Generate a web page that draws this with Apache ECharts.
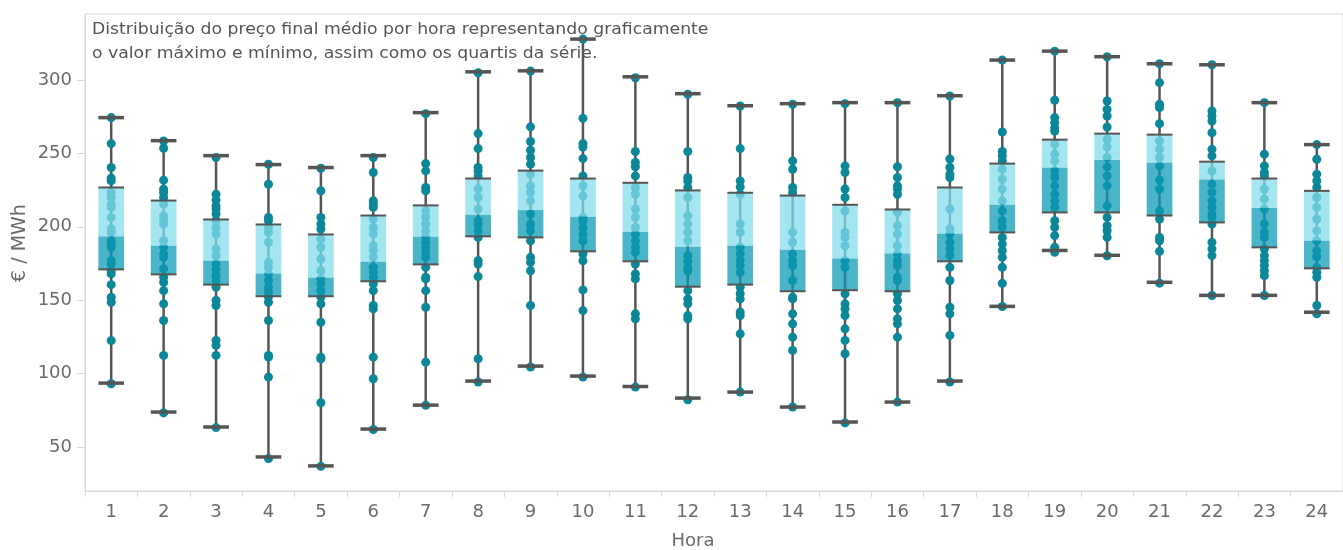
<!DOCTYPE html>
<html>
<head>
<meta charset="utf-8">
<script src="https://cdn.jsdelivr.net/npm/echarts@6/dist/echarts.min.js"></script>
<style>
html,body{margin:0;padding:0;background:#fff;}
#chart{width:1343px;height:550px;}
</style>
</head>
<body>
<div id="chart"></div>
<script>
// ---- Data ----
var hours = ['1','2','3','4','5','6','7','8','9','10','11','12','13','14','15','16','17','18','19','20','21','22','23','24'];
var yTickValues = [50, 100, 150, 200, 250, 300];

var statMin = [93.5, 73.8, 63.6, 43.2, 37.1, 62.2, 78.5, 94.9, 105.1, 98.3, 91.2, 83.3, 87.4, 77.2, 67.0, 80.6, 94.9, 145.8, 183.9, 180.6, 162.2, 153.3, 153.3, 141.8];
var statQ1  = [171.0, 167.6, 160.6, 152.7, 152.7, 162.9, 174.4, 193.5, 192.8, 183.3, 176.5, 159.2, 160.6, 156.1, 156.8, 156.1, 176.5, 196.2, 209.8, 209.8, 207.7, 203.0, 186.0, 171.7];
var statMed = [193.5, 187.1, 176.9, 168.1, 165.4, 176.2, 193.2, 208.2, 211.4, 206.8, 196.6, 186.4, 187.1, 184.4, 178.3, 181.9, 195.3, 215.0, 240.2, 245.6, 243.6, 232.2, 212.9, 190.5];
var statQ3  = [226.8, 217.9, 205.0, 201.6, 194.8, 207.7, 214.6, 232.9, 238.3, 232.9, 230.0, 224.8, 223.2, 221.3, 215.0, 211.8, 226.8, 243.1, 259.4, 263.5, 262.8, 244.4, 232.9, 224.5];
var statMax = [274.4, 258.7, 248.5, 242.4, 240.4, 248.5, 277.8, 305.6, 306.3, 327.9, 302.2, 290.7, 282.5, 283.9, 284.6, 284.6, 289.3, 313.6, 319.7, 315.9, 311.1, 310.4, 284.6, 256.0];

var h01 = [274.4, 256.7, 240.4, 233.2, 231.3, 223.4, 220.0, 215.5, 213.2, 206.4, 198.5, 196.2, 190.5, 188.7, 186.0, 176.9, 174.7, 170.1, 167.9, 160.6, 152.0, 148.6, 122.5, 93.1];
var h02 = [258.5, 253.5, 231.8, 225.7, 223.4, 220.0, 215.5, 207.5, 205.3, 201.9, 190.5, 186.0, 181.5, 179.2, 171.3, 165.6, 162.2, 156.5, 147.5, 136.2, 112.4, 73.2];
var h03 = [247.2, 222.2, 218.2, 214.3, 212.1, 208.7, 204.1, 199.6, 195.1, 184.9, 180.4, 174.7, 171.3, 166.8, 163.4, 158.9, 149.8, 146.4, 122.6, 119.2, 112.4, 63.2];
var h04 = [242.6, 229.0, 206.4, 204.1, 199.6, 196.2, 189.4, 175.8, 172.4, 167.9, 163.4, 158.9, 155.5, 152.1, 148.6, 136.2, 112.4, 111.2, 97.6, 42.1];
var h05 = [239.9, 224.5, 206.4, 201.9, 198.5, 191.7, 186.0, 178.1, 170.1, 164.5, 161.1, 156.5, 152.1, 147.5, 135.0, 111.2, 110.0, 80.1, 36.8];
var h06 = [247.2, 237.0, 217.7, 215.5, 213.2, 205.3, 199.6, 195.1, 187.1, 183.7, 179.2, 172.4, 169.0, 165.6, 161.1, 156.5, 146.4, 144.1, 111.2, 96.5, 61.9];
var h07 = [277.1, 243.1, 238.1, 226.8, 224.5, 210.9, 206.4, 201.9, 197.4, 192.8, 189.4, 186.0, 182.6, 179.2, 172.4, 165.6, 164.5, 156.5, 145.2, 107.8, 78.4];
var h08 = [305.0, 263.5, 253.3, 240.4, 238.1, 234.7, 225.7, 220.0, 212.1, 204.1, 201.9, 197.4, 192.8, 177.0, 174.7, 166.1, 110.1, 94.3];
var h09 = [306.1, 268.1, 258.1, 252.2, 247.2, 242.7, 235.9, 227.9, 223.4, 217.7, 208.7, 201.9, 197.4, 190.5, 179.2, 175.8, 170.1, 146.4, 104.5];
var h10 = [327.9, 273.9, 256.7, 254.4, 246.5, 234.7, 227.9, 221.1, 206.4, 204.1, 199.6, 195.1, 190.5, 181.5, 176.9, 157.0, 142.9, 97.6];
var h11 = [301.6, 251.3, 243.8, 240.9, 234.7, 226.8, 222.2, 212.1, 206.4, 199.6, 195.1, 190.5, 186.0, 182.6, 174.7, 167.9, 164.5, 140.7, 137.3, 90.8];
var h12 = [290.3, 251.3, 233.6, 231.3, 226.8, 220.0, 207.5, 201.9, 196.2, 190.5, 180.4, 176.9, 172.4, 170.1, 156.5, 150.9, 147.5, 139.5, 137.3, 82.2];
var h13 = [282.3, 253.3, 231.3, 227.2, 222.2, 201.9, 196.2, 186.0, 181.5, 176.9, 173.6, 169.0, 158.9, 154.4, 150.9, 141.9, 139.6, 127.1, 87.4];
var h14 = [283.5, 244.9, 239.2, 226.8, 223.4, 196.2, 189.4, 181.5, 176.9, 173.6, 163.4, 152.1, 150.9, 140.7, 133.9, 124.8, 115.8, 77.2];
var h15 = [283.9, 241.5, 237.0, 225.7, 220.0, 210.9, 196.2, 192.8, 187.1, 176.9, 172.4, 154.4, 147.5, 144.1, 139.6, 130.5, 122.6, 113.5, 66.4];
var h16 = [284.5, 240.9, 233.6, 227.9, 225.7, 222.2, 209.8, 200.7, 195.1, 187.1, 181.5, 176.9, 173.6, 165.6, 163.4, 154.4, 149.8, 144.1, 137.3, 133.9, 124.8, 80.6];
var h17 = [289.1, 246.2, 240.4, 235.9, 233.6, 212.1, 198.5, 195.1, 189.4, 184.9, 180.4, 172.4, 163.4, 145.2, 140.7, 126.0, 94.3];
var h18 = [313.6, 264.6, 251.3, 248.3, 244.9, 239.2, 232.4, 225.7, 217.7, 210.9, 204.1, 199.6, 192.8, 188.3, 183.7, 179.2, 172.4, 161.5, 145.7];
var h19 = [319.7, 286.2, 274.4, 271.0, 267.6, 265.3, 256.3, 249.5, 244.9, 238.1, 233.6, 227.9, 222.2, 217.7, 213.2, 204.1, 199.6, 194.0, 186.0, 182.6];
var h20 = [315.9, 285.7, 280.0, 275.5, 268.0, 259.6, 254.4, 247.2, 240.8, 234.7, 227.9, 214.3, 206.4, 200.7, 197.3, 192.8, 180.3];
var h21 = [311.1, 298.2, 283.5, 281.2, 270.3, 258.5, 252.8, 247.2, 241.5, 231.8, 225.7, 210.9, 205.3, 192.8, 190.5, 183.3, 161.6];
var h22 = [310.4, 278.9, 275.5, 272.1, 264.1, 252.8, 248.3, 238.1, 229.0, 223.4, 217.7, 213.2, 208.7, 206.4, 201.9, 189.4, 184.9, 180.4, 153.2];
var h23 = [284.6, 249.5, 241.5, 237.0, 234.7, 225.7, 218.9, 212.1, 201.9, 196.2, 192.8, 184.9, 180.4, 177.0, 173.6, 170.1, 166.7, 153.2];
var h24 = [256.0, 246.0, 235.9, 231.3, 226.8, 220.0, 213.2, 205.3, 197.4, 190.5, 183.7, 179.6, 172.4, 169.0, 165.6, 146.4, 140.7];

var hourPoints = [h01,h02,h03,h04,h05,h06,h07,h08,h09,h10,h11,h12,h13,h14,h15,h16,h17,h18,h19,h20,h21,h22,h23,h24];

// ---- Build series data ----
var statData = hours.map(function (h, i) {
  return [i, statMin[i], statQ1[i], statMed[i], statQ3[i], statMax[i]];
});
var pointData = [];
hourPoints.forEach(function (arr, i) {
  arr.forEach(function (v) { pointData.push([i, v]); });
});

var GRAY = '#555555';
var FONT = 'DejaVu Sans';

function whiskerRender(params, api) {
  var i = api.value(0);
  var top = api.coord([i, api.value(5)]);
  var bot = api.coord([i, api.value(1)]);
  return {
    type: 'line',
    shape: {x1: top[0], y1: top[1], x2: bot[0], y2: bot[1]},
    style: {stroke: GRAY, lineWidth: 2.5}
  };
}

function boxRender(params, api) {
  var i = api.value(0);
  var bw = api.size([1, 0])[0] * 0.49;
  var pMin = api.coord([i, api.value(1)]);
  var pQ1 = api.coord([i, api.value(2)]);
  var pMed = api.coord([i, api.value(3)]);
  var pQ3 = api.coord([i, api.value(4)]);
  var pMax = api.coord([i, api.value(5)]);
  var x0 = pQ1[0] - bw / 2;
  return {
    type: 'group',
    children: [
      {type: 'rect', shape: {x: x0, y: pQ3[1], width: bw, height: pMed[1] - pQ3[1]},
        style: {fill: 'rgba(132,220,237,0.74)'}},
      {type: 'rect', shape: {x: x0, y: pMed[1], width: bw, height: pQ1[1] - pMed[1]},
        style: {fill: 'rgba(11,154,181,0.74)'}},
      {type: 'line', shape: {x1: x0, y1: pQ3[1], x2: x0 + bw, y2: pQ3[1]},
        style: {stroke: GRAY, lineWidth: 2}},
      {type: 'line', shape: {x1: x0, y1: pQ1[1], x2: x0 + bw, y2: pQ1[1]},
        style: {stroke: GRAY, lineWidth: 2}},
      {type: 'line', shape: {x1: x0, y1: pMax[1], x2: x0 + bw, y2: pMax[1]},
        style: {stroke: GRAY, lineWidth: 3.5}},
      {type: 'line', shape: {x1: x0, y1: pMin[1], x2: x0 + bw, y2: pMin[1]},
        style: {stroke: GRAY, lineWidth: 3.5}}
    ]
  };
}

var chart = echarts.init(document.getElementById('chart'), null, {renderer: 'canvas'});
chart.setOption({
  animation: false,
  backgroundColor: '#ffffff',
  textStyle: {fontFamily: FONT},
  grid: {
    left: 85, top: 14, width: 1262, height: 477,
    show: true, borderColor: '#d9d9d9', borderWidth: 1, backgroundColor: 'transparent'
  },
  xAxis: {
    type: 'category',
    data: hours,
    boundaryGap: true,
    axisLine: {lineStyle: {color: '#d9d9d9', width: 1}},
    axisTick: {show: true, length: 6, lineStyle: {color: '#d9d9d9'}},
    axisLabel: {color: '#6a6a6a', fontSize: 18, fontFamily: FONT, margin: 12},
    splitLine: {show: false}
  },
  yAxis: {
    type: 'value',
    min: 20, max: 345,
    axisLine: {show: true, lineStyle: {color: '#d9d9d9', width: 1}},
    axisTick: {show: true, length: 8, lineStyle: {color: '#d9d9d9'}, customValues: yTickValues},
    axisLabel: {color: '#6a6a6a', fontSize: 18, fontFamily: FONT, margin: 13, customValues: yTickValues},
    splitLine: {show: false}
  },
  graphic: [
    {type: 'text', x: 92, y: 23, scaleX: 1.15, style: {text: 'Distribuição do preço final médio por hora representando graficamente', fill: '#555555', font: '15px "DejaVu Sans"'}},
    {type: 'text', x: 92, y: 47, scaleX: 1.15, style: {text: 'o valor máximo e mínimo, assim como os quartis da série.', fill: '#555555', font: '15px "DejaVu Sans"'}},
    {type: 'text', x: 693, y: 541, style: {text: 'Hora', fill: '#6a6a6a', font: '18px "DejaVu Sans"', align: 'center', verticalAlign: 'middle'}},
    {type: 'text', x: 20, y: 243, rotation: Math.PI / 2, style: {text: '€ / MWh', fill: '#6a6a6a', font: '19px "DejaVu Sans"', align: 'center', verticalAlign: 'middle'}}
  ],
  series: [
    {type: 'custom', name: 'whisker', z: 1, renderItem: whiskerRender, data: statData, encode: {x: 0, y: [1, 5]}},
    {type: 'scatter', name: 'pontos', z: 2, symbol: 'circle', symbolSize: 9,
      itemStyle: {color: '#0b8797', opacity: 1}, data: pointData},
    {type: 'custom', name: 'box', z: 3, renderItem: boxRender, data: statData, encode: {x: 0, y: [1, 5]}}
  ]
});
</script>
</body>
</html>
